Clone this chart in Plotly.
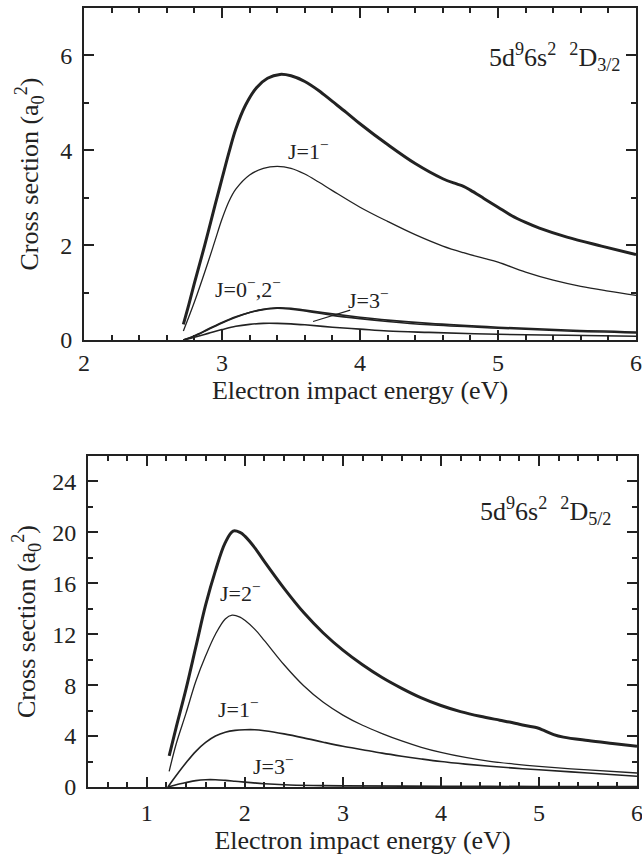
import plotly.graph_objects as go

# ---------------- Top panel: 5d9 6s2 2D3/2 ----------------
top_total_x = [2.72, 2.76, 2.8, 2.875, 2.95, 3.0, 3.05, 3.1, 3.17, 3.25, 3.33, 3.42, 3.5, 3.6, 3.7, 3.8, 3.9, 4.0,
               4.2, 4.4, 4.6, 4.7, 4.75, 4.8, 4.9, 5.0, 5.1, 5.2, 5.3, 5.5, 5.75, 6.0]
top_total_y = [0.33, 0.75, 1.2, 2.0, 2.85, 3.4, 3.95, 4.45, 4.95, 5.32, 5.52, 5.6, 5.57, 5.45, 5.26, 5.03, 4.8, 4.56,
               4.12, 3.72, 3.4, 3.29, 3.24, 3.16, 2.98, 2.8, 2.62, 2.48, 2.36, 2.17, 1.98, 1.8]

top_j1_x = [2.72, 2.8, 2.9, 2.95, 3.0, 3.05, 3.1, 3.2, 3.3, 3.4, 3.5, 3.6, 3.7, 3.8, 4.0, 4.2, 4.4, 4.6, 4.75,
            4.9, 5.0, 5.2, 5.4, 5.6, 5.8, 6.0]
top_j1_y = [0.19, 0.8, 1.65, 2.1, 2.55, 2.92, 3.18, 3.48, 3.62, 3.66, 3.62, 3.5, 3.33, 3.15, 2.8, 2.5, 2.22, 1.98, 1.84,
            1.72, 1.64, 1.43, 1.26, 1.13, 1.03, 0.94]

top_low_x = [2.72, 2.8, 2.9, 3.0, 3.1, 3.2, 3.3, 3.4, 3.5, 3.6, 3.8, 4.0, 4.2, 4.5, 5.0, 5.5, 6.0]
top_j0_y = [0.0, 0.08, 0.22, 0.36, 0.48, 0.58, 0.65, 0.68, 0.67, 0.63, 0.55, 0.48, 0.42, 0.35, 0.27, 0.21, 0.17]
top_j2_y = [0.0, 0.09, 0.23, 0.37, 0.49, 0.58, 0.64, 0.67, 0.65, 0.61, 0.52, 0.45, 0.39, 0.32, 0.25, 0.19, 0.15]
top_j3_y = [0.0, 0.06, 0.14, 0.22, 0.29, 0.33, 0.35, 0.35, 0.34, 0.32, 0.27, 0.23, 0.19, 0.16, 0.12, 0.10, 0.08]

# ---------------- Bottom panel: 5d9 6s2 2D5/2 ----------------
bot_total_x = [1.228, 1.3, 1.4, 1.5, 1.6, 1.7, 1.8, 1.88, 1.95, 2.0, 2.1, 2.2, 2.4, 2.6, 2.8, 3.0, 3.2, 3.4, 3.6,
               3.8, 4.0, 4.2, 4.4, 4.6, 4.7, 4.8, 4.9, 4.98, 5.05, 5.15, 5.25, 5.5, 5.75, 6.0]
bot_total_y = [2.45, 4.7, 7.7, 11.0, 14.3, 17.0, 19.2, 20.1, 20.0, 19.7, 18.8, 17.7, 15.6, 13.7, 12.1, 10.75, 9.6,
               8.6, 7.75, 7.0, 6.4, 5.92, 5.55, 5.25, 5.1, 4.93, 4.77, 4.65, 4.45, 4.12, 3.92, 3.65, 3.42, 3.2]

bot_j2_x = [1.228, 1.3, 1.4, 1.5, 1.6, 1.7, 1.8, 1.87, 1.95, 2.0, 2.1, 2.2, 2.4, 2.6, 2.8, 3.0, 3.2, 3.4, 3.6, 3.8,
            4.0, 4.25, 4.5, 4.75, 5.0, 5.5, 6.0]
bot_j2_y = [1.23, 3.4, 5.8, 8.3, 10.3, 12.0, 13.2, 13.5, 13.35, 13.1, 12.4, 11.5, 9.6, 7.95, 6.65, 5.65, 4.85, 4.2, 3.62,
            3.12, 2.72, 2.32, 2.02, 1.8, 1.62, 1.34, 1.1]

bot_j1_x = [1.215, 1.3, 1.4, 1.5, 1.6, 1.7, 1.8, 1.9, 2.0, 2.1, 2.2, 2.4, 2.6, 2.8, 3.0, 3.2, 3.4, 3.6, 3.8, 4.0,
            4.25, 4.5, 4.75, 5.0, 5.5, 6.0]
bot_j1_y = [0.0, 0.9, 1.9, 2.8, 3.5, 4.0, 4.3, 4.45, 4.5, 4.5, 4.42, 4.17, 3.86, 3.52, 3.2, 2.93, 2.66, 2.42, 2.2, 2.0,
            1.8, 1.63, 1.48, 1.35, 1.1, 0.85]

bot_j3_x = [1.215, 1.3, 1.4, 1.5, 1.6, 1.7, 1.8, 1.9, 2.0, 2.2, 2.4, 2.7, 3.0, 4.0, 5.0, 6.0]
bot_j3_y = [0.0, 0.18, 0.35, 0.5, 0.57, 0.57, 0.52, 0.45, 0.38, 0.26, 0.18, 0.12, 0.09, 0.06, 0.04, 0.03]

INK = "#222222"
FONT = "Liberation Serif, Times New Roman, serif"
W, H = 660, 861  # a little wider than the 642 px window so the last tick label is clipped like the original

fig = go.Figure()


def add_line(x, y, xa, ya, width):
    fig.add_trace(go.Scatter(x=x, y=y, xaxis=xa, yaxis=ya, mode="lines",
                             line=dict(color=INK, width=width, shape="spline", smoothing=1.0),
                             showlegend=False, hoverinfo="skip"))


add_line(top_total_x, top_total_y, "x", "y", 3)
add_line(top_j1_x, top_j1_y, "x", "y", 1.3)
add_line(top_low_x, top_j0_y, "x", "y", 1.6)
add_line(top_low_x, top_j2_y, "x", "y", 1.6)
add_line(top_low_x, top_j3_y, "x", "y", 1.6)

add_line(bot_total_x, bot_total_y, "x2", "y2", 3)
add_line(bot_j2_x, bot_j2_y, "x2", "y2", 1.3)
add_line(bot_j1_x, bot_j1_y, "x2", "y2", 1.6)
add_line(bot_j3_x, bot_j3_y, "x2", "y2", 1.6)


def axis_common(minor_dtick, dtick, rng, domain, title, standoff, lab_standoff):
    return dict(
        range=rng, domain=domain, dtick=dtick, tick0=0,
        showline=True, linewidth=2, linecolor=INK, mirror="ticks",
        ticks="inside", ticklen=10, tickwidth=1.5, tickcolor=INK,
        showgrid=False, zeroline=False, automargin=False,
        tickfont=dict(family=FONT, size=24, color=INK),
        minor=dict(ticks="inside", ticklen=5, tickwidth=1.5, tickcolor=INK, dtick=minor_dtick, showgrid=False),
        title=dict(text=title, font=dict(family=FONT, size=26, color=INK), standoff=standoff),
        ticklabelstandoff=lab_standoff,
    )


xtitle = "Electron impact energy (eV)"
ytitle = "Cross section (a<sub>0</sub><sup>2</sup>)"

top_ydom = [1 - 340 / H, 1 - 8 / H]
bot_ydom = [1 - 787 / H, 1 - 456 / H]

fig.update_layout(
    width=W, height=H,
    margin=dict(l=0, r=0, t=0, b=0),
    paper_bgcolor="white", plot_bgcolor="white",
    xaxis=dict(axis_common(0.2, 1, [2, 6], [84 / W, 636 / W], xtitle, 6, 0), anchor="y"),
    yaxis=dict(axis_common(1, 2, [0, 7], top_ydom, ytitle, 14, 5), anchor="x"),
    xaxis2=dict(axis_common(0.2, 1, [0.4, 6], [88 / W, 637 / W], xtitle, 4, 3), anchor="y2"),
    yaxis2=dict(axis_common(2, 4, [0, 26], bot_ydom, ytitle, 9, 5), anchor="x2"),
)

lab_font = dict(family=FONT, size=22, color=INK)
title_font = dict(family=FONT, size=26, color=INK)
annots = [
    dict(x=3.63, y=4.0, xref="x", yref="y", text="J=1<sup>−</sup>", showarrow=False, font=lab_font),
    dict(x=3.19, y=1.1, xref="x", yref="y", text="J=0<sup>−</sup>,2<sup>−</sup>", showarrow=False, font=lab_font),
    dict(x=4.06, y=0.87, xref="x", yref="y", text="J=3<sup>−</sup>", showarrow=False, font=lab_font),
    dict(x=3.66, y=0.39, xref="x", yref="y", ax=3.94, ay=0.64, axref="x", ayref="y", text="",
         showarrow=True, arrowhead=0, arrowwidth=1.2, arrowcolor=INK),
    dict(x=5.9, y=5.97, xref="x", yref="y", xanchor="right",
         text="5d<sup>9</sup>6s<sup>2</sup>  <sup>2</sup>D<sub>3/2</sub>", showarrow=False, font=title_font),
    dict(x=1.96, y=15.3, xref="x2", yref="y2", text="J=2<sup>−</sup>", showarrow=False, font=lab_font),
    dict(x=1.94, y=6.2, xref="x2", yref="y2", text="J=1<sup>−</sup>", showarrow=False, font=lab_font),
    dict(x=2.29, y=1.75, xref="x2", yref="y2", text="J=3<sup>−</sup>", showarrow=False, font=lab_font),
    dict(x=5.76, y=21.7, xref="x2", yref="y2", xanchor="right",
         text="5d<sup>9</sup>6s<sup>2</sup>  <sup>2</sup>D<sub>5/2</sub>", showarrow=False, font=title_font),
]
fig.update_layout(annotations=annots)

# remove the browser's default 8px page margin so the figure starts at the window's corner
fig.write_html("out.html", config={"displayModeBar": False},
               post_script="document.body.style.margin='0px';document.body.style.overflow='hidden';")
